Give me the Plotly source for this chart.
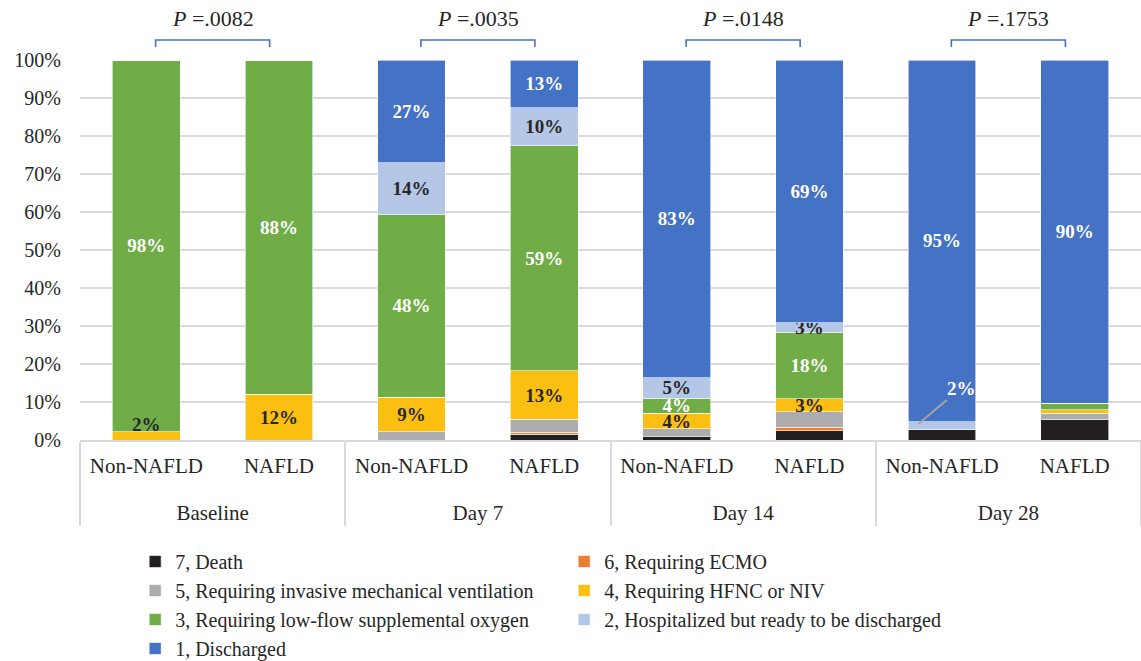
import plotly.graph_objects as go

groups = ["Baseline", "Baseline", "Day 7", "Day 7", "Day 14", "Day 14", "Day 28", "Day 28"]
cohorts = ["Non-NAFLD", "NAFLD"] * 4

death = [0, 0, 0, 1.5, 0.8, 2.4, 2.7, 5.3]
ecmo = [0, 0, 0, 0.6, 0, 0.9, 0, 0]
imv = [0, 0, 2.2, 3.3, 2.1, 4.1, 0, 1.7]
hfnc = [2.2, 12, 9.1, 12.8, 4.1, 3.5, 0, 1.0]
lowflow = [97.8, 88, 48, 59.2, 4.0, 17.4, 0, 1.7]
ready = [0, 0, 13.7, 10.0, 5.4, 2.6, 2.1, 0]
discharged = [0, 0, 27.0, 12.6, 83.6, 69.1, 95.2, 90.3]

txt_hfnc = ["", "12%", "9%", "13%", "4%", "3%", "", ""]
txt_lowflow = ["98%", "88%", "48%", "59%", "4%", "18%", "", ""]
txt_ready = ["", "", "14%", "10%", "5%", "3%", "", ""]
txt_discharged = ["", "", "27%", "13%", "83%", "69%", "95%", "90%"]
empty = [""] * 8

p_groups = ["Baseline", "Day 7", "Day 14", "Day 28"]
p_values = ["<i>P</i> =.0082", "<i>P</i> =.0035", "<i>P</i> =.0148", "<i>P</i> =.1753"]

series = [
    ("7, Death", death, "#231f20", empty, "white"),
    ("6, Requiring ECMO", ecmo, "#ed7d31", empty, "white"),
    ("5, Requiring invasive mechanical ventilation", imv, "#adadb0", empty, "#262626"),
    ("4, Requiring HFNC or NIV", hfnc, "#fbbf12", txt_hfnc, "#262626"),
    ("3, Requiring low-flow supplemental oxygen", lowflow, "#70ad47", txt_lowflow, "white"),
    ("2, Hospitalized but ready to be discharged", ready, "#b4c7e7", txt_ready, "#262626"),
    ("1, Discharged", discharged, "#4472c4", txt_discharged, "white"),
]

# extra blank line under the cohort labels pushes the day labels further down
cohort_labels = [c + "<br>\u00a0" for c in cohorts]

FONT = "Liberation Serif"
LBL = 19
fig = go.Figure()
for name, vals, color, txt, tcolor in series:
    fig.add_trace(go.Bar(
        x=[groups, cohort_labels], y=vals, name=name,
        marker=dict(color=color, line=dict(color="white", width=0.6)),
        text=txt, textposition="inside", insidetextanchor="middle", textangle=0,
        textfont=dict(family=FONT, size=LBL, color=tcolor, weight="bold"),
        hoverinfo="skip",
    ))

shapes = []
annotations = []
for i, (g, p) in enumerate(zip(p_groups, p_values)):
    left = 2 * i + 0.07
    right = 2 * i + 1 - 0.07
    shapes.append(dict(type="path", xref="x", yref="paper",
                       path=f"M {left},1.034 L {left},1.0526 L {right},1.0526 L {right},1.034",
                       line=dict(color="#4472c4", width=1.6)))
    annotations.append(dict(x=2 * i + 0.5, y=(440 - 18) / 380, xref="x", yref="paper", text=p,
                            yanchor="middle", xanchor="center",
                            showarrow=False, font=dict(family=FONT, size=22, color="#262626")))

annotations.append(dict(x=0, y=4.2, xref="x", yref="y", text="<b>2%</b>", showarrow=False,
                        font=dict(family=FONT, size=LBL, color="#262626")))
annotations.append(dict(x=5.82, y=4.2, xref="x", yref="y", text="<b>2%</b>", showarrow=True,
                        arrowhead=0, arrowcolor="#a5a5a5", arrowwidth=2, ax=43, ay=-36,
                        font=dict(family=FONT, size=LBL, color="white")))

fig.update_layout(
    width=1141, height=661,
    barmode="stack", bargap=0.49,
    plot_bgcolor="white", paper_bgcolor="white",
    margin=dict(l=80, r=0, t=60, b=221),
    font=dict(family=FONT, size=20, color="#262626"),
    shapes=shapes, annotations=annotations,
    uniformtext=dict(minsize=LBL, mode="show"),
    legend=dict(orientation="h", x=0.052, y=(661 - 542) / 661, yref="container",
                xanchor="left", yanchor="top",
                traceorder="normal", entrywidth=384, entrywidthmode="pixels",
                font=dict(family=FONT, size=20, color="#262626")),
    showlegend=True,
)
fig.update_yaxes(range=[0, 100], dtick=10, ticksuffix="%", showgrid=True, automargin=False,
                 gridcolor="#d9d9d9", gridwidth=1.5, zeroline=False, ticks="",
                 ticklabelstandoff=18, tickfont=dict(family=FONT, size=20, color="#262626"))
fig.update_xaxes(type="multicategory", showline=True, linecolor="#d9d9d9", linewidth=1.5,
                 showdividers=True, dividercolor="#d9d9d9", dividerwidth=1.5, ticks="",
                 automargin=False, ticklabelstandoff=6,
                 tickfont=dict(family=FONT, size=21, color="#262626"))

fig.write_html("out.html", config={"displayModeBar": False})

# remove the browser's default page margin so the figure sits at the window's top-left
with open("out.html", encoding="utf-8") as f:
    html = f.read()
html = html.replace("<head>", "<head><style>html,body{margin:0;padding:0;overflow:hidden}</style>", 1)
with open("out.html", "w", encoding="utf-8") as f:
    f.write(html)
